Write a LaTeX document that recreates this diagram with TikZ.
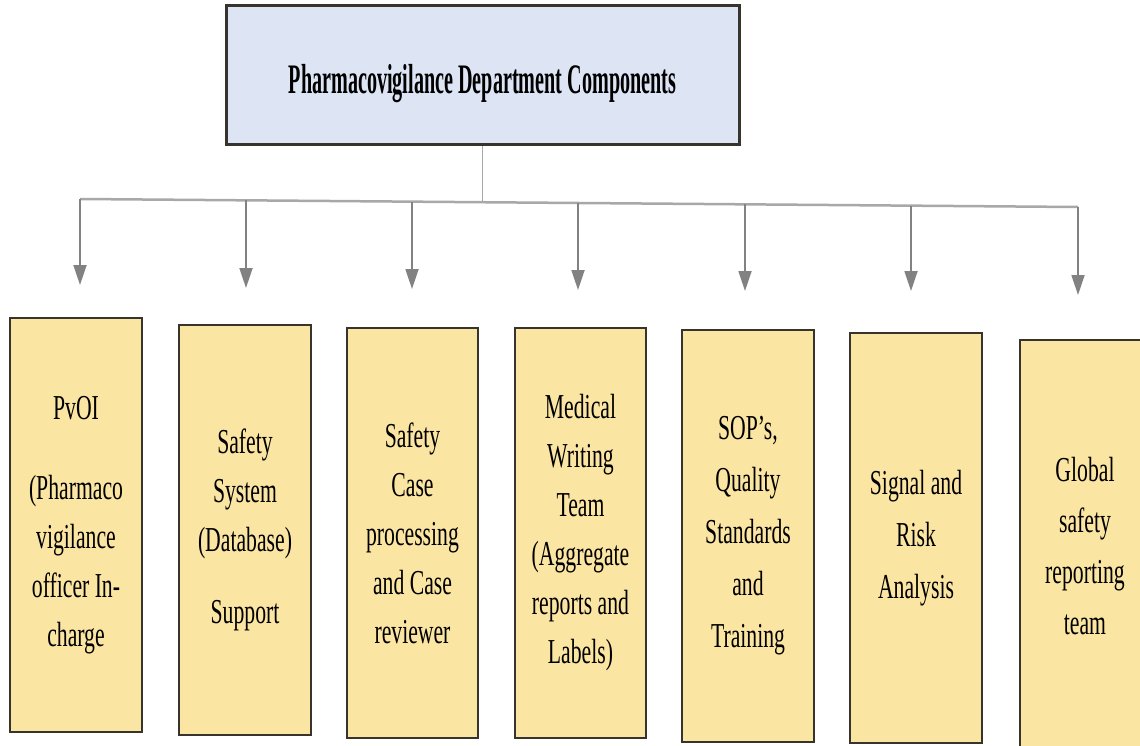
\documentclass[tikz,border=0pt]{standalone}
\usepackage{fontspec}
\setmainfont{Liberation Serif}
\newfontfamily\boxfont{Liberation Serif}[FakeStretch=0.62]
\newfontfamily\titlefont{Liberation Serif}[FakeStretch=0.48]
\usetikzlibrary{arrows.meta}
\definecolor{topfill}{RGB}{221,229,245}
\definecolor{boxfill}{RGB}{251,229,162}
\definecolor{boxline}{RGB}{55,52,45}
\definecolor{busgray}{RGB}{168,168,168}
\definecolor{arrgray}{RGB}{130,130,130}
\tikzset{
  headbox/.style={draw=boxline, line width=3pt, fill=topfill, minimum width=513pt, minimum height=139pt, inner sep=0pt},
  compbox/.style={draw=boxline, line width=2.5pt, fill=boxfill, minimum width=131pt, minimum height=410pt, inner sep=0pt, align=center, font=\boxfont\fontsize{35}{49}\selectfont},
  bus/.style={draw=busgray, line width=2.5pt},
  stem/.style={draw=busgray, line width=1.6pt},
  arr/.style={draw=arrgray, line width=1.8pt, -{Triangle[width=13pt,length=20pt]}}
}
\begin{document}
\begin{tikzpicture}[x=1pt,y=-1pt]
\useasboundingbox (0,0) rectangle (1140,746);
\clip (0,0) rectangle (1140,746);
\fill[white] (0,0) rectangle (1140,746);

% header
\node[headbox] (top) at (482.5,75.5) {};
\node[font=\titlefont\bfseries\fontsize{42}{48}\selectfont] (title) at ([yshift=-8pt]top.center) {Pharmacovigilance Department Components};

% component boxes
\node[compbox, minimum width=132pt, minimum height=414pt] (c1) at (76,525)
  {PvOI\\[31pt]\fontsize{35}{47}\selectfont(Pharmaco\\vigilance\\officer In-\\charge};
\node[compbox, minimum width=132pt] (c2) at (245,530)
  {Safety\\System\\(Database)\\[23pt]Support};
\node[compbox] (c3) at (412.5,533)
  {Safety\\Case\\processing\\and Case\\reviewer};
\node[compbox] (c4) at (580.5,533)
  {Medical\\Writing\\Team\\(Aggregate\\reports and\\Labels)};
\node[compbox, minimum width=132pt, minimum height=412pt, font=\boxfont\fontsize{35}{52}\selectfont] (c5) at (748,536)
  {SOP’s,\\Quality\\Standards\\and\\Training};
\node[compbox, minimum width=132pt, font=\boxfont\fontsize{35}{52}\selectfont] (c6) at (916,538)
  {Signal and\\Risk\\Analysis};
\node[compbox, minimum width=130pt, minimum height=412pt, font=\boxfont\fontsize{35}{51}\selectfont] (c7) at (1085,546)
  {Global\\safety\\reporting\\team};

% bus coordinates and arrow tips
\coordinate (b1) at (80,199);
\coordinate (b2) at (246,200.3);
\coordinate (b3) at (412,201.6);
\coordinate (b4) at (578,203);
\coordinate (b5) at (745,204.3);
\coordinate (b6) at (911,205.6);
\coordinate (b7) at (1078,207);
\coordinate (bm) at (482.5,202.2);
\coordinate (t1) at (80,285);
\coordinate (t2) at (246,288);
\coordinate (t3) at (412,289);
\coordinate (t4) at (578,290);
\coordinate (t5) at (745,291);
\coordinate (t6) at (911,291);
\coordinate (t7) at (1078,295);

\draw[stem] (top.south) -- (bm);
\draw[bus] (b1) -- (b7);
\foreach \i in {1,...,7}{
  \draw[arr] (b\i) -- (t\i);
}
\end{tikzpicture}
\end{document}
